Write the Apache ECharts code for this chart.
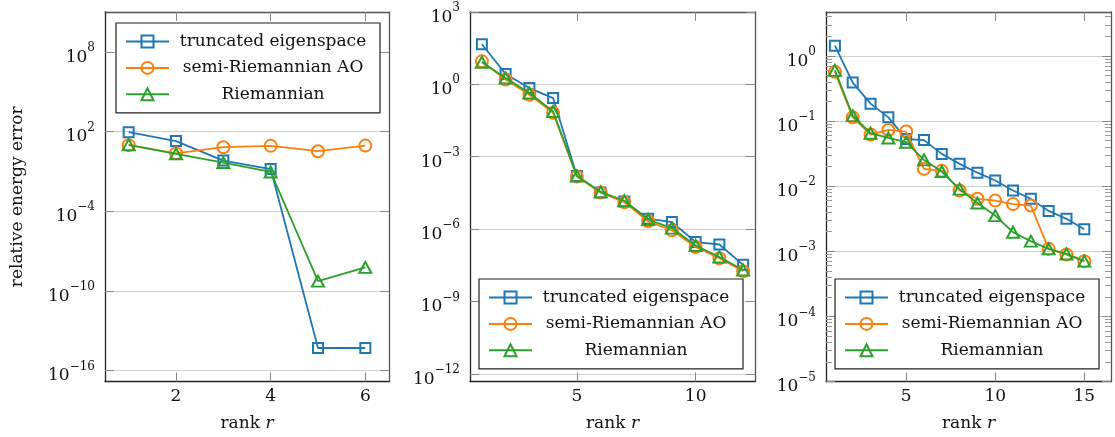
<!DOCTYPE html>
<html>
<head>
<meta charset="utf-8">
<script src="https://cdn.jsdelivr.net/npm/echarts@6/dist/echarts.min.js"></script>
<style>
  html, body { margin: 0; padding: 0; background: #fff; }
  #chart { width: 1115px; height: 437px; }
</style>
</head>
<body>
<div id="chart"></div>
<script>
const FONT = 'DejaVu Serif';
const BLUE = '#1f77b4', ORANGE = '#ff7f0e', GREEN = '#2ca02c';
const NAMES = ['truncated eigenspace', 'semi-Riemannian AO', 'Riemannian'];

// panel 1
const rank1 = [1, 2, 3, 4, 5, 6];
const trunc1 = [90, 19, 0.65, 0.15, 5e-15, 5e-15];
const semi1 = [9.4, 2.3, 6.6, 8.3, 3.3, 8.7];
const riem1 = [10, 2.1, 0.46, 0.09, 5.4e-10, 5.9e-9];
const yTicks1 = [1e-16, 1e-10, 1e-4, 1e2, 1e8];
const xTicks1 = [2, 4, 6];

// panel 2
const rank2 = [1, 2, 3, 4, 5, 6, 7, 8, 9, 10, 11, 12];
const trunc2 = [46, 2.7, 0.7, 0.27, 1.6e-4, 3.3e-5, 1.4e-5, 2.7e-6, 1.95e-6, 2.9e-7, 2.3e-7, 3.3e-8];
const semi2 = [9, 1.6, 0.37, 0.066, 1.5e-4, 3.3e-5, 1.3e-5, 2.1e-6, 8.9e-7, 1.8e-7, 6.2e-8, 1.8e-8];
const riem2 = [8.3, 1.85, 0.44, 0.075, 1.6e-4, 3.5e-5, 1.5e-5, 2.5e-6, 1.1e-6, 2.1e-7, 7e-8, 2e-8];
const yTicks2 = [1e-12, 1e-9, 1e-6, 1e-3, 1, 1e3];
const xTicks2 = [5, 10];

// panel 3
const rank3 = [1, 2, 3, 4, 5, 6, 7, 8, 9, 10, 11, 12, 13, 14, 15];
const trunc3 = [1.44, 0.39, 0.185, 0.114, 0.053, 0.051, 0.0313, 0.022, 0.0161, 0.0122, 0.00857, 0.00638, 0.00417, 0.00315, 0.00218];
const semi3 = [0.57, 0.114, 0.062, 0.073, 0.069, 0.0184, 0.0172, 0.0086, 0.0064, 0.006, 0.0053, 0.00504, 0.00109, 0.00089, 0.000705];
const riem3 = [0.6, 0.121, 0.065, 0.055, 0.0473, 0.0253, 0.0168, 0.009, 0.0055, 0.00353, 0.00196, 0.00143, 0.00109, 0.00091, 0.000705];
const yTicks3 = [1e-5, 1e-4, 1e-3, 1e-2, 1e-1, 1];
const yMinor3 = [];
[-5, -4, -3, -2, -1, 0].forEach(e => {
  for (let k = 2; k <= 9; k++) {
    const v = k * Math.pow(10, e);
    if (v < 4.7) yMinor3.push(v);
  }
});
const xTicks3 = [5, 10, 15];

const panels = [
  { left: 105, width: 284, xMax: 6.5, yMin: 1.5e-17, yMax: 1e11, xTicks: xTicks1, yTicks: yTicks1,
    rank: rank1, vals: [trunc1, semi1, riem1], yName: 'relative energy error', legend: { left: 116, top: 23 } },
  { left: 470, width: 285, xMax: 12.5, yMin: 4.8e-13, yMax: 1e3, xTicks: xTicks2, yTicks: yTicks2,
    rank: rank2, vals: [trunc2, semi2, riem2], yName: '', legend: { left: 479, top: 279 } },
  { left: 826, width: 285, xMax: 16.5, yMin: 1e-5, yMax: 4.73, xTicks: xTicks3, yTicks: yTicks3, minor: yMinor3,
    rank: rank3, vals: [trunc3, semi3, riem3], yName: '', legend: { left: 835, top: 279 } }
];

function expLabel(v) {
  const e = Math.round(Math.log10(v));
  const s = e < 0 ? '\u2212' + (-e) : String(e);
  return '{b|10}{s|' + s + '}';
}

const labelRich = {
  b: { fontFamily: FONT, fontSize: 17, color: '#111', lineHeight: 24, verticalAlign: 'bottom' },
  s: { fontFamily: FONT, fontSize: 12, color: '#111', lineHeight: 10, verticalAlign: 'top' }
};

const grid = [], xAxis = [], yAxis = [], series = [], legend = [];
const styles = [
  { color: BLUE, symbol: 'rect', size: 10 },
  { color: ORANGE, symbol: 'circle', size: 12 },
  { color: GREEN, symbol: 'triangle', size: [12, 11] }
];

panels.forEach((p, gi) => {
  grid.push({ left: p.left, top: 12, width: p.width, height: 369.5, outerBoundsMode: 'none' });

  const xBase = { type: 'value', gridIndex: gi, min: 0.5, max: p.xMax, splitLine: { show: false } };
  const xi = xAxis.length;
  xAxis.push(Object.assign({}, xBase, {
    position: 'bottom',
    axisLine: { lineStyle: { color: '#222', width: 1.3 } },
    axisTick: { inside: true, length: 9, customValues: p.xTicks, lineStyle: { color: '#888' } },
    axisLabel: { customValues: p.xTicks, margin: 7, fontFamily: FONT, fontSize: 17, color: '#111' },
    name: 'rank {i|r}', nameLocation: 'middle', nameGap: 34,
    nameTextStyle: { fontFamily: FONT, fontSize: 17, color: '#111',
      rich: { i: { fontFamily: FONT, fontSize: 17, fontStyle: 'italic', color: '#111' } } }
  }));
  xAxis.push(Object.assign({}, xBase, {
    position: 'top',
    axisLine: { lineStyle: { color: '#555', width: 1.3 } },
    axisTick: { inside: true, length: 9, customValues: p.xTicks, lineStyle: { color: '#888' } },
    axisLabel: { show: false }
  }));

  const yBase = { type: 'log', gridIndex: gi, min: p.yMin, max: p.yMax };
  const yi = yAxis.length;
  yAxis.push(Object.assign({}, yBase, {
    position: 'left',
    axisLine: { show: true, lineStyle: { color: '#222', width: 1.3 } },
    axisTick: { show: true, inside: true, length: 9, customValues: p.yTicks, lineStyle: { color: '#888' } },
    axisLabel: { customValues: p.yTicks, margin: 10, formatter: expLabel, rich: labelRich, padding: [4, 0, 0, 0] },
    splitLine: { show: true, lineStyle: { color: '#cfcfcf', width: 1 } },
    name: p.yName, nameLocation: 'middle', nameGap: 79,
    nameTextStyle: { fontFamily: FONT, fontSize: 17, color: '#111' }
  }));
  yAxis.push(Object.assign({}, yBase, {
    position: 'right',
    axisLine: { show: true, lineStyle: { color: '#555', width: 1.3 } },
    axisTick: { show: true, inside: true, length: 9, customValues: p.yTicks, lineStyle: { color: '#888' } },
    axisLabel: { show: false },
    splitLine: { show: false }
  }));
  if (p.minor) {
    ['left', 'right'].forEach(pos => {
      yAxis.push(Object.assign({}, yBase, {
        position: pos,
        axisLine: { show: false },
        axisTick: { show: true, inside: true, length: 6, customValues: p.minor, lineStyle: { color: '#999' } },
        axisLabel: { show: false },
        splitLine: { show: false }
      }));
    });
  }

  p.vals.forEach((vals, si) => {
    const st = styles[si];
    series.push({
      name: NAMES[si], type: 'line', xAxisIndex: xi, yAxisIndex: yi,
      data: p.rank.map((r, i) => [r, vals[i]]),
      symbol: st.symbol, symbolSize: st.size, showAllSymbol: true,
      lineStyle: { color: st.color, width: 1.8 },
      itemStyle: { color: 'rgba(255,255,255,0)', borderColor: st.color, borderWidth: 2 },
      emphasis: { disabled: true },
      z: 2 + si
    });
  });

  legend.push({
    data: NAMES, left: p.legend.left, top: p.legend.top, orient: 'vertical',
    selectedMode: false, backgroundColor: '#fff', borderColor: '#222', borderWidth: 1.2,
    padding: [10, 8, 10, 9], itemGap: 9.4, itemWidth: 43, itemHeight: 15,
    formatter: n => '{t|' + n + '}',
    textStyle: { rich: { t: { width: 198, align: 'center', fontFamily: FONT, fontSize: 17, color: '#111', lineHeight: 22 } } }
  });
});

const chart = echarts.init(document.getElementById('chart'), null, { renderer: 'canvas' });
chart.setOption({ animation: false, grid, xAxis, yAxis, series, legend });
</script>
</body>
</html>
